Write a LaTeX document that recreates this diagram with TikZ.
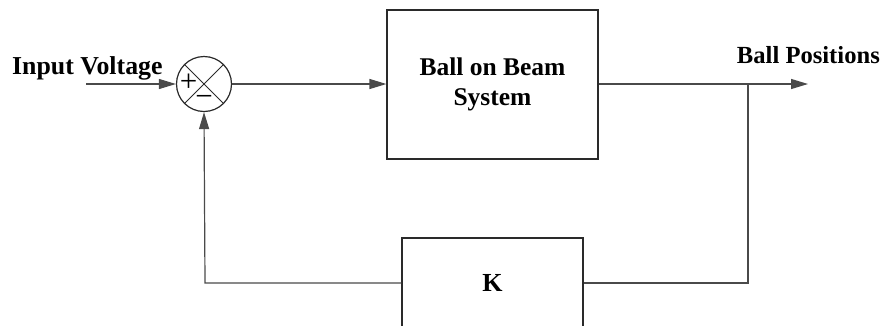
\documentclass[tikz,border=0pt]{standalone}
\usepackage{fontspec}
\setmainfont{Liberation Serif}
\usetikzlibrary{arrows.meta}
\definecolor{wire}{HTML}{4A4A4A}
\definecolor{edge}{HTML}{2A2A2A}
\begin{document}
\begin{tikzpicture}[x=1pt,y=-1pt,
  blockbox/.style={draw=edge,line width=1.2pt,minimum width=211pt,minimum height=149pt,inner sep=0pt,
    font=\fontsize{25.5}{30}\selectfont\bfseries,align=center},
  gainbox/.style={draw=edge,line width=1.2pt,minimum width=181pt,minimum height=90pt,inner sep=0pt,
    font=\fontsize{26}{30}\selectfont\bfseries},
  sumjoint/.style={circle,draw=edge,line width=1.2pt,minimum size=55pt,inner sep=0pt},
  wireline/.style={draw=wire,line width=1.2pt},
  sig/.style={wireline,-{Triangle[length=17pt,width=10pt]}},
  lbl/.style={font=\fontsize{25.8}{30}\selectfont\bfseries,inner sep=0pt},
  sign/.style={font=\fontsize{31}{31}\selectfont,inner sep=0pt}]
\useasboundingbox (0,0) rectangle (885,325);

% summing junction with its crossed quadrants
\node[sumjoint] (sum) at (204,84) {};
\draw[edge,line width=1pt] (sum.north west) -- (sum.south east)
                           (sum.south west) -- (sum.north east);
\node[sign] (plus) at (188.5,83) {+};
\node[sign] (minus) at (204,101) {−};

% plant and feedback gain
\node[blockbox] (plant) at (492.5,84.5) {Ball on Beam\\System};
\node[gainbox] (gain) at (492.5,283) {K};

% signal labels
\node[lbl,anchor=base west] (vin) at (12,74) {Input Voltage};
\node[lbl,anchor=base east,font=\fontsize{24.6}{28}\selectfont\bfseries] (vout) at (880,63) {Ball Positions};

% signal paths
\coordinate (src) at (86,84);
\coordinate (dst) at (808,84);
\coordinate (tap) at (748,84);
\coordinate (tapdown) at (748,283);
\coordinate (back) at (205,283);

\draw[sig] (src) -- (sum.west);
\draw[sig] (sum.east) -- (plant.west |- sum.east);
\draw[sig] (plant.east |- tap) -- (dst);
\draw[wireline] (tap) -- (tapdown) -- (gain.east |- tapdown);
\draw[sig] (gain.west |- back) -- (back) -- (sum.south);
\end{tikzpicture}
\end{document}
